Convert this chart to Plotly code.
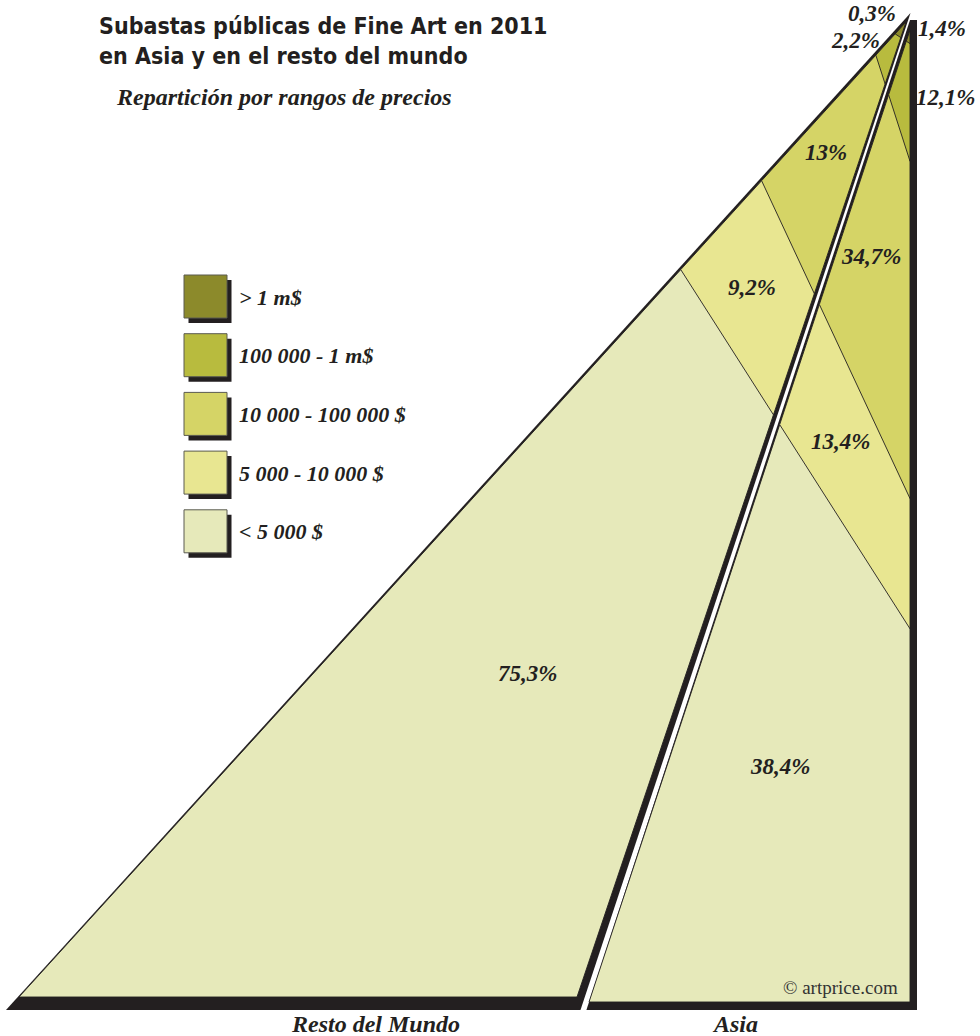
import plotly.graph_objects as go

# ---------------- data ----------------
categories = ["> 1 m$", "100 000 - 1 m$", "10 000 - 100 000 $", "5 000 - 10 000 $", "< 5 000 $"]
resto_pct = [0.3, 2.2, 13.0, 9.2, 75.3]
asia_pct = [1.4, 12.1, 34.7, 13.4, 38.4]
resto_labels = ["0,3%", "2,2%", "13%", "9,2%", "75,3%"]
asia_labels = ["1,4%", "12,1%", "34,7%", "13,4%", "38,4%"]
region_names = ["Resto del Mundo", "Asia"]
title_lines = ["Subastas públicas de Fine Art en 2011", "en Asia y en el resto del mundo"]
subtitle = "Repartición por rangos de precios"
credit = "© artprice.com"

# ---------------- style / layout ----------------
band_colors = ["#8c8a2b", "#b8bb3e", "#d5d466", "#e8e691", "#e6e9ba"]
INK = "#231f20"
W, H = 980, 1036

LEFT_TRI = [(19, 997), (577, 997), (906, 22)]
LEFT_SHADOW = [(6, 1010), (580.5, 1010), (910.5, 13)]
ASIA_TRI = [(589, 1002), (910, 1002), (910, 30)]
ASIA_SHADOW = [(586.4, 1010), (917, 1010), (917, 20), (910, 20)]

# cumulative scales: along the big left edge (resto) and the right edge x=910 (asia)
RESTO_Y = (31, 997)
ASIA_Y = (30, 1002)
RIGHT_X = 910


def x_left(y):
    (x0, y0), (x1, y1) = LEFT_TRI[0], LEFT_TRI[2]
    return x0 + (y0 - y) * (x1 - x0) / (y0 - y1)


def cum(vals):
    out, s = [], 0
    for v in vals:
        s += v
        out.append(s)
    return out


cuts = []
for cr, ca in zip(cum(resto_pct)[:-1], cum(asia_pct)[:-1]):
    yr = RESTO_Y[0] + cr / 100 * (RESTO_Y[1] - RESTO_Y[0])
    ya = ASIA_Y[0] + ca / 100 * (ASIA_Y[1] - ASIA_Y[0])
    cuts.append(((x_left(yr), yr), (RIGHT_X, ya)))


def side(p, q, r):
    return (q[0] - p[0]) * (r[1] - p[1]) - (q[1] - p[1]) * (r[0] - p[0])


def clip_above(poly, p, q):
    ref = side(p, q, (RIGHT_X, -100))
    out = []
    n = len(poly)
    for i in range(n):
        a, b = poly[i], poly[(i + 1) % n]
        sa, sb = side(p, q, a) * ref, side(p, q, b) * ref
        if sa >= 0:
            out.append(a)
        if (sa >= 0) != (sb >= 0):
            t = sa / (sa - sb)
            out.append((a[0] + t * (b[0] - a[0]), a[1] + t * (b[1] - a[1])))
    return out


fig = go.Figure()


def add_poly(poly, fill, line_color=None, lw=0):
    xs = [p[0] for p in poly] + [poly[0][0]]
    ys = [p[1] for p in poly] + [poly[0][1]]
    fig.add_trace(go.Scatter(
        x=xs, y=ys, mode="lines", fill="toself", fillcolor=fill,
        line=dict(color=line_color or fill, width=lw),
        hoverinfo="skip", showlegend=False))


# shadows
add_poly(LEFT_SHADOW, INK)
add_poly(ASIA_SHADOW, INK)

# bands
for tri in (LEFT_TRI, ASIA_TRI):
    add_poly(tri, band_colors[-1], INK, 0.9)
    for i in range(len(cuts) - 1, -1, -1):
        p, q = cuts[i]
        poly = clip_above(tri, p, q)
        if len(poly) >= 3:
            add_poly(poly, band_colors[i], INK, 0.9)

annotations = []
shapes = []

SERIF = "Liberation Serif, DejaVu Serif, serif"

# percentage labels
resto_pos = [(872, 13), (855, 40), (826, 152), (752, 287), (527, 673)]
asia_pos = [(942, 28), (945, 97), (871, 256), (840, 441), (780, 766)]
lab_font = dict(family=SERIF, size=23, color=INK, weight="bold", style="italic")
for txt, (x, y) in zip(resto_labels + asia_labels, resto_pos + asia_pos):
    annotations.append(dict(x=x, y=y, text=txt, showarrow=False, xanchor="center",
                            yanchor="middle", font=lab_font))

# region labels
for txt, x in zip(region_names, [375, 735]):
    annotations.append(dict(x=x, y=1024, text=txt, showarrow=False, xanchor="center",
                            yanchor="middle", font=dict(lab_font, size=24)))

annotations.append(dict(x=900, y=987, text=credit, showarrow=False, xanchor="right",
                        yanchor="middle",
                        font=dict(family="Liberation Serif, serif", size=19, color="#333333")))

# title
ttl_font = dict(family="Liberation Sans Narrow, DejaVu Sans Condensed, Arial Narrow, sans-serif",
                size=23, color=INK, weight="bold")
for txt, y in zip(title_lines, [26, 56]):
    annotations.append(dict(x=97, y=y, text=txt, showarrow=False, xanchor="left",
                            yanchor="middle", font=ttl_font))
annotations.append(dict(x=114, y=97, text=subtitle, showarrow=False, xanchor="left",
                        yanchor="middle", font=dict(lab_font, size=24)))

# legend
leg_x, leg_y0, leg_dy, sw = 184, 275, 58.7, 43
for i, (name, col) in enumerate(zip(categories, band_colors)):
    y0 = leg_y0 + i * leg_dy
    shapes.append(dict(type="rect", xref="x", yref="y", x0=leg_x + 4.5, x1=leg_x + sw + 4.5,
                       y0=y0 + 5, y1=y0 + sw + 5, fillcolor=INK, line=dict(width=0)))
    shapes.append(dict(type="rect", xref="x", yref="y", x0=leg_x, x1=leg_x + sw,
                       y0=y0, y1=y0 + sw, fillcolor=col, line=dict(color="#5a5a50", width=1)))
    annotations.append(dict(x=237, y=y0 + 22, text=name, showarrow=False, xanchor="left",
                            yanchor="middle", font=dict(lab_font, size=22)))

fig.update_layout(
    width=W, height=H, margin=dict(l=0, r=0, t=0, b=0),
    paper_bgcolor="white", plot_bgcolor="white",
    xaxis=dict(range=[0, W], visible=False, fixedrange=True),
    yaxis=dict(range=[H, 0], visible=False, fixedrange=True),
    annotations=annotations, shapes=shapes, showlegend=False,
)

fig.write_html("out.html", config={"displayModeBar": False},
               post_script="document.body.style.margin='0';document.body.style.overflow='hidden';")
